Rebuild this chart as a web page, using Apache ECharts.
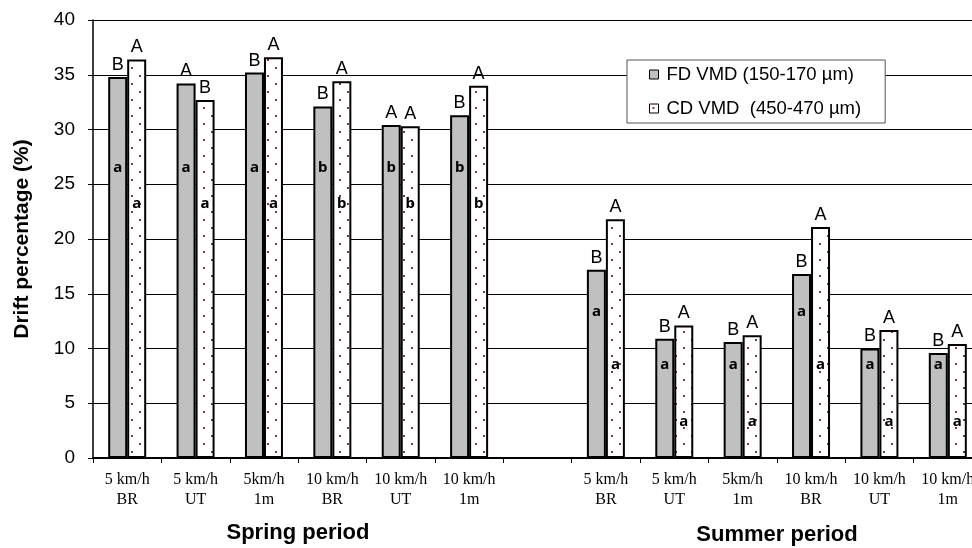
<!DOCTYPE html>
<html>
<head>
<meta charset="utf-8">
<script src="https://cdn.jsdelivr.net/npm/echarts@6/dist/echarts.min.js"></script>
<style>
  html, body { margin: 0; padding: 0; background: #fff; }
  #chart { width: 972px; height: 548px; }
</style>
</head>
<body>
<div id="chart"></div>
<script>
// categories (the empty one is the gap between the two periods)
var categories = [
  '5 km/h\nBR', '5 km/h\nUT', '5km/h\n1m', '10 km/h\nBR', '10 km/h\nUT', '10 km/h\n1m',
  '',
  '5 km/h\nBR', '5 km/h\nUT', '5km/h\n1m', '10 km/h\nBR', '10 km/h\nUT', '10 km/h\n1m'
];

// drift percentage values
var fdValues = [34.8, 34.2, 35.2, 32.1, 30.4, 31.3, null, 17.2, 10.9, 10.6, 16.8, 10.0, 9.6];
var cdValues = [36.4, 32.7, 36.6, 34.4, 30.3, 34.0, null, 21.8, 12.1, 11.2, 21.1, 11.7, 10.4];

// letters above the bars
var fdTop = ['B', 'A', 'B', 'B', 'A', 'B', '', 'B', 'B', 'B', 'B', 'B', 'B'];
var cdTop = ['A', 'B', 'A', 'A', 'A', 'A', '', 'A', 'A', 'A', 'A', 'A', 'A'];

// letters inside the bars, and the height they sit at
var fdInner = ['a', 'a', 'a', 'b', 'b', 'b', '', 'a', 'a', 'a', 'a', 'a', 'a'];
var cdInner = ['a', 'a', 'a', 'b', 'b', 'b', '', 'a', 'a', 'a', 'a', 'a', 'a'];
var fdInnerY = [26.5, 26.5, 26.5, 26.5, 26.5, 26.5, null, 13.4, 8.5, 8.5, 13.4, 8.5, 8.5];
var cdInnerY = [23.2, 23.2, 23.2, 23.2, 23.2, 23.2, null, 8.5, 3.3, 3.3, 8.5, 3.3, 3.3];

var periods = ['Spring period', 'Summer period'];

// dotted fill for the CD bars
function dotPattern() {
  var c = document.createElement('canvas');
  c.width = 16;
  c.height = 16;
  var ctx = c.getContext('2d');
  ctx.fillStyle = '#fff';
  ctx.fillRect(0, 0, 16, 16);
  ctx.fillStyle = '#8e2a60';
  ctx.fillRect(3, 3, 2, 2);
  ctx.fillRect(11, 11, 2, 2);
  return c;
}

// letter series drawn inside the bars
function innerSeries(name, ys, letters, dx) {
  var data = [];
  ys.forEach(function (y, i) {
    if (y != null) data.push([i, y]);
  });
  return {
    name: name,
    type: 'custom',
    silent: true,
    z: 5,
    data: data,
    renderItem: function (params, api) {
      var i = api.value(0);
      var pt = api.coord([i, api.value(1)]);
      return {
        type: 'text',
        x: pt[0] + dx,
        y: pt[1],
        style: {
          text: letters[i],
          font: 'bold 15px "Noto Sans"',
          fill: '#000',
          align: 'center',
          verticalAlign: 'middle'
        }
      };
    }
  };
}

var chart = echarts.init(document.getElementById('chart'));

var option = {
  backgroundColor: '#fff',
  animation: false,
  grid: {
    left: 93,
    right: -10,
    top: 20,
    bottom: 90,
    outerBoundsMode: 'none'
  },
  legend: {
    data: ['FD VMD (150-170 µm)', 'CD VMD  (450-470 µm)'],
    orient: 'vertical',
    left: 627,
    top: 60,
    padding: [5, 24, 5, 22],
    itemGap: 15,
    itemWidth: 9,
    itemHeight: 9,
    icon: 'rect',
    backgroundColor: '#fff',
    borderColor: '#555',
    borderWidth: 1,
    borderRadius: 0,
    itemStyle: { borderColor: '#000', borderWidth: 1 },
    textStyle: {
      fontFamily: 'Liberation Sans',
      fontSize: 18.5,
      color: '#000',
      padding: [0, 0, 0, 3]
    }
  },
  xAxis: {
    type: 'category',
    data: categories,
    axisLine: { lineStyle: { color: '#000', width: 2 } },
    axisTick: { show: true, length: 5, lineStyle: { color: '#000' } },
    axisLabel: {
      interval: 0,
      fontFamily: 'Liberation Serif',
      fontSize: 16,
      lineHeight: 20,
      color: '#000',
      margin: 12
    },
    splitLine: { show: false }
  },
  yAxis: {
    type: 'value',
    min: 0,
    max: 40,
    interval: 5,
    name: 'Drift percentage (%)',
    nameLocation: 'middle',
    nameGap: 60,
    nameTextStyle: {
      fontFamily: 'Liberation Sans',
      fontWeight: 'bold',
      fontSize: 21,
      color: '#000'
    },
    axisLine: { show: true, lineStyle: { color: '#000', width: 1.5 } },
    axisTick: { show: true, length: 5, lineStyle: { color: '#000' } },
    axisLabel: {
      fontFamily: 'Liberation Sans',
      fontSize: 19,
      color: '#000',
      margin: 18
    },
    splitLine: { lineStyle: { color: '#000', width: 1 } }
  },
  graphic: [
    {
      type: 'text',
      x: 298, y: 533,
      style: {
        text: periods[0], textAlign: 'center', textVerticalAlign: 'middle',
        font: 'bold 22px "Liberation Sans"', fill: '#000'
      }
    },
    {
      type: 'text',
      x: 777, y: 535,
      style: {
        text: periods[1], textAlign: 'center', textVerticalAlign: 'middle',
        font: 'bold 22px "Liberation Sans"', fill: '#000'
      }
    }
  ],
  series: [
    {
      name: 'FD VMD (150-170 µm)',
      type: 'bar',
      data: fdValues,
      barWidth: 19,
      barGap: '0%',
      itemStyle: { color: '#c0c0c0', borderColor: '#000', borderWidth: 2 },
      label: {
        show: true,
        position: 'top',
        distance: 3,
        formatter: function (p) { return fdTop[p.dataIndex]; },
        fontFamily: 'Liberation Sans',
        fontSize: 18,
        color: '#000'
      }
    },
    {
      name: 'CD VMD  (450-470 µm)',
      type: 'bar',
      data: cdValues,
      barWidth: 19,
      itemStyle: {
        color: { image: dotPattern(), repeat: 'repeat' },
        borderColor: '#000',
        borderWidth: 2
      },
      label: {
        show: true,
        position: 'top',
        distance: 3,
        formatter: function (p) { return cdTop[p.dataIndex]; },
        fontFamily: 'Liberation Sans',
        fontSize: 18,
        color: '#000'
      }
    },
    innerSeries('fdInner', fdInnerY, fdInner, -9.5),
    innerSeries('cdInner', cdInnerY, cdInner, 9.5)
  ]
};

chart.setOption(option);
</script>
</body>
</html>
